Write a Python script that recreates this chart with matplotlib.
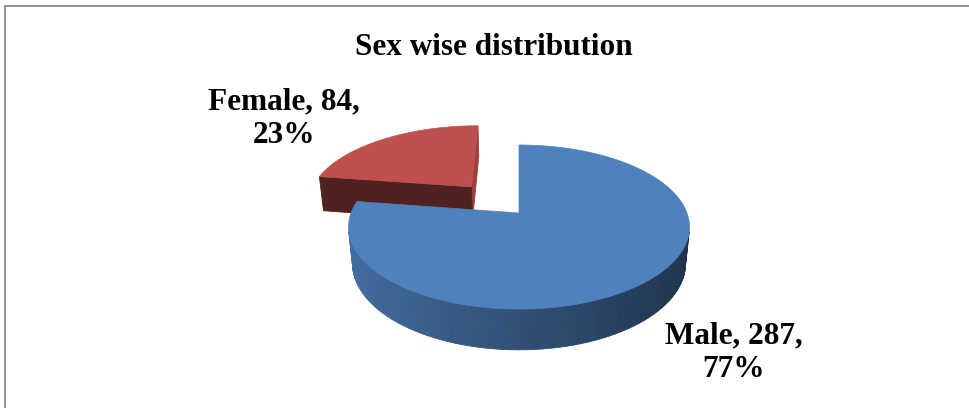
import numpy as np
import matplotlib.pyplot as plt
from matplotlib.patches import Polygon
from matplotlib.colors import to_rgb

labels = ['Male', 'Female']
counts = [287, 84]
explode = [0.0, 0.46]
top_colors = ['#4f81bd', '#c0504d']
title = 'Sex wise distribution'

# rough perspective camera fitted by eye to the excel 3d pie
TILT = np.radians(28.3)
DIST = 5.15
FOCAL = 865
CX, CY = 519, 213
DEPTH = 0.25
ct, st = np.cos(TILT), np.sin(TILT)
cam = np.array([0.0, -DIST * ct, DIST * st])


def project(X, Y, Z):
    d = DIST + Y * ct - Z * st
    yp = Y * st + Z * ct
    return CX + FOCAL * X / d, CY - FOCAL * yp / d


def shade(col, f):
    return tuple(np.clip(np.array(to_rgb(col)) * f, 0, 1))


fig = plt.figure(figsize=(9.69, 4.08), dpi=100)
ax = fig.add_axes([0, 0, 1, 1])
ax.set_xlim(0, 969)
ax.set_ylim(408, 0)
ax.axis('off')

total = sum(counts)
fracs = [c / total for c in counts]
starts = np.cumsum([0] + fracs[:-1]) * 360
wedges = []
for i in range(len(counts)):
    a0 = starts[i]
    a1 = a0 + fracs[i] * 360
    mid = np.radians((a0 + a1) / 2)
    off = np.array([np.sin(mid), np.cos(mid)]) * explode[i]
    wedges.append((i, a0, a1, off))

# far wedges first
def wedge_dist(w):
    o = w[3]
    return np.linalg.norm(np.array([o[0], o[1], 0]) - cam)
wedges.sort(key=wedge_dist, reverse=True)

for i, a0, a1, off in wedges:
    col = top_colors[i]
    phi = np.radians(np.linspace(a0, a1, 120))
    X = off[0] + np.sin(phi)
    Y = off[1] + np.cos(phi)
    faces = []
    # curved outer side
    for k in range(len(phi) - 1):
        pm = (phi[k] + phi[k + 1]) / 2
        n = np.array([np.sin(pm), np.cos(pm), 0])
        P = np.array([(X[k] + X[k + 1]) / 2, (Y[k] + Y[k + 1]) / 2, -DEPTH / 2])
        if n @ (cam - P) <= 0:
            continue
        xs = [X[k], X[k + 1], X[k + 1], X[k]]
        ys = [Y[k], Y[k + 1], Y[k + 1], Y[k]]
        zs = [0, 0, -DEPTH, -DEPTH]
        fc = shade(col, 0.62 - 0.235 * n[0])
        faces.append((np.linalg.norm(P - cam), xs, ys, zs, fc))
    # flat cut faces
    for ang, sgn in ((a0, -1), (a1, 1)):
        r = np.radians(ang)
        n = np.array([sgn * np.cos(r), -sgn * np.sin(r), 0])
        ox, oy = off[0] + np.sin(r), off[1] + np.cos(r)
        P = np.array([(off[0] + ox) / 2, (off[1] + oy) / 2, -DEPTH / 2])
        if n @ (cam - P) < -1e-6:
            continue
        xs = [off[0], ox, ox, off[0]]
        ys = [off[1], oy, oy, off[1]]
        zs = [0, 0, -DEPTH, -DEPTH]
        # faces turned sideways (normal along x) look lighter in the reference
        f = 0.41 if abs(n[0]) < 0.5 or explode[i] == 0 else 0.8
        faces.append((np.linalg.norm(P - cam), xs, ys, zs, shade(col, f)))
    faces.sort(key=lambda f: f[0], reverse=True)
    for _, xs, ys, zs, fc in faces:
        sx, sy = project(np.array(xs), np.array(ys), np.array(zs))
        ax.add_patch(Polygon(np.column_stack([sx, sy]), closed=True,
                             facecolor=fc, edgecolor=fc, lw=0.6))
    # top face
    tx = np.concatenate([[off[0]], X])
    ty = np.concatenate([[off[1]], Y])
    sx, sy = project(tx, ty, np.zeros_like(tx))
    ax.add_patch(Polygon(np.column_stack([sx, sy]), closed=True,
                         facecolor=col, edgecolor=col, lw=0.5))

font = dict(family='Liberation Serif', weight='bold', size=22.5, color='black')
ax.text(494, 55, title, ha='center', va='baseline', **font)

# anchor = baseline of the last label line
label_pos = [(734, 377), (284, 143)]
for i in range(len(counts)):
    pct = round(100 * counts[i] / total)
    ax.text(label_pos[i][0], label_pos[i][1], f'{labels[i]}, {counts[i]},\n{pct}%',
            ha='center', va='baseline', multialignment='center',
            linespacing=1.22, **font)

# chart border (left and top edges visible in the crop)
ax.plot([5, 5], [408, 6], color='#8a8a8a', lw=1.3, clip_on=False)
ax.plot([5, 969], [6, 6], color='#8a8a8a', lw=1.3, clip_on=False)

fig.savefig('out.png', dpi=100)
